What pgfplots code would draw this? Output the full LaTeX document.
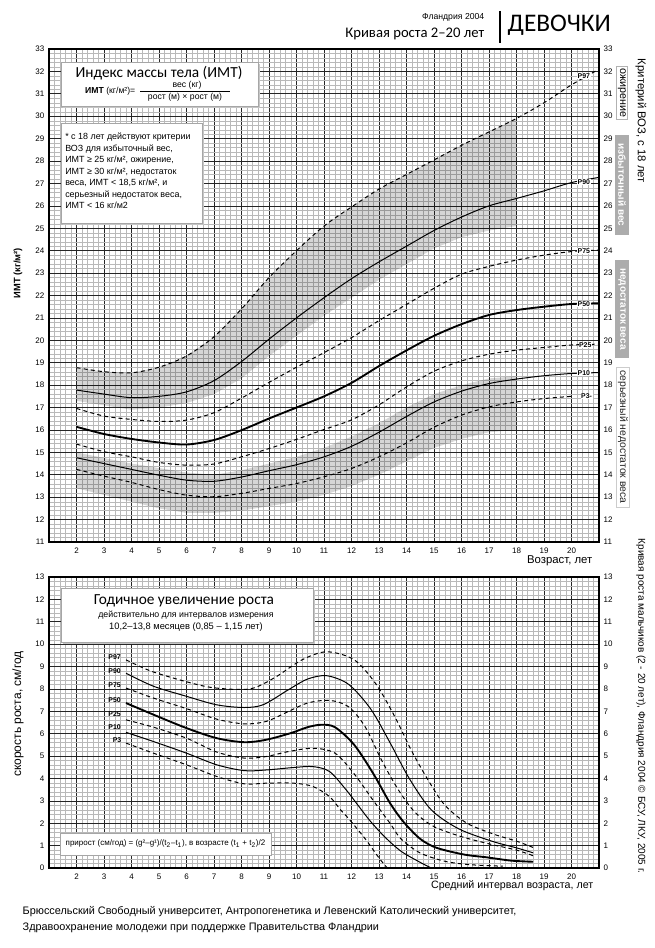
\documentclass[border=0pt]{standalone}
\usepackage{pgfplots}
\pgfplotsset{compat=1.18}
\usepackage{pgfplotstable}
\usepackage{fontspec}
\setmainfont{Liberation Sans}
\newfontfamily\carlito{Carlito}

% BMI percentiles, girls 2-20 y
\pgfplotstableread{
age p97   p90   p75   p50   p25   p10   p3
2   18.78 17.78 16.96 16.14 15.37 14.76 14.24
3   18.60 17.60 16.62 15.82 15.03 14.50 13.94
4   18.55 17.44 16.47 15.60 14.80 14.24 13.66
5   18.80 17.50 16.38 15.44 14.55 13.98 13.34
6   19.30 17.70 16.44 15.35 14.43 13.76 13.09
7   20.16 18.20 16.77 15.55 14.48 13.71 13.02
8   21.40 19.05 17.42 15.99 14.80 13.90 13.17
9   22.80 20.05 18.12 16.51 15.17 14.18 13.39
10  24.00 21.00 18.80 17.00 15.58 14.45 13.61
11  25.10 21.90 19.45 17.50 16.02 14.80 13.91
12  25.95 22.75 20.12 18.10 16.45 15.27 14.28
13  26.75 23.50 20.88 18.85 17.12 15.90 14.80
14  27.40 24.20 21.60 19.55 17.92 16.60 15.42
15  28.05 24.90 22.32 20.20 18.62 17.25 16.12
16  28.70 25.50 22.95 20.72 19.08 17.73 16.66
17  29.30 26.00 23.30 21.13 19.38 18.07 17.03
18  29.90 26.33 23.58 21.35 19.56 18.27 17.25
19  30.60 26.67 23.80 21.50 19.68 18.42 17.40
20  31.40 27.04 23.96 21.62 19.79 18.52 17.50
21  32.10 27.27 24.03 21.65 19.83 18.56 nan
}\bmi

% height velocity percentiles (cm/year)
\pgfplotstableread{
x y
3.8 9.30
4.7 8.80
6.0 8.32
7.0 8.05
8.3 8.00
9.2 8.50
10.2 9.30
11.1 9.66
12.1 9.30
12.9 8.20
13.6 6.70
14.2 5.20
14.8 3.90
15.4 2.80
16.2 2.00
17.2 1.50
18.0 1.20
18.6 0.92
}\vnn
\pgfplotstableread{
x y
3.8 8.70
4.8 8.12
6.0 7.67
7.1 7.29
8.1 7.17
8.8 7.30
9.7 7.96
10.4 8.44
11.1 8.59
11.9 8.20
12.7 7.10
13.4 5.60
14.1 4.00
14.9 2.60
15.9 1.75
17.1 1.20
18.0 0.90
18.6 0.68
}\vninety
\pgfplotstableread{
x y
3.8 8.04
4.8 7.59
6.0 7.12
7.1 6.65
8.1 6.44
8.9 6.55
9.7 6.99
10.4 7.37
11.2 7.49
11.9 7.20
12.5 6.30
13.1 4.80
13.7 3.50
14.3 2.50
15.0 1.85
16.0 1.40
17.1 1.05
18.0 0.80
18.6 0.55
}\vsf
\pgfplotstableread{
x y
3.8 7.37
4.8 6.85
6.0 6.25
7.1 5.80
8.1 5.62
8.9 5.73
9.8 6.03
10.4 6.29
10.9 6.40
11.4 6.29
12.1 5.50
12.8 4.20
13.4 2.90
13.9 2.05
14.5 1.30
15.1 0.90
16.1 0.60
16.9 0.48
17.8 0.33
18.6 0.28
}\vfifty
\pgfplotstableread{
x y
3.8 6.62
4.8 6.29
6.0 5.80
7.1 5.18
8.1 4.91
8.9 4.98
9.7 5.20
10.6 5.35
11.4 5.13
12.1 4.20
12.8 3.00
13.4 2.00
13.8 1.30
14.5 0.67
15.4 0.30
16.3 0.15
17.5 0.08
}\vtf
\pgfplotstableread{
x y
3.8 6.06
4.8 5.65
6.0 5.13
7.1 4.61
8.1 4.35
8.9 4.38
9.9 4.49
10.6 4.53
11.2 4.31
11.8 3.50
12.3 2.70
12.7 2.07
13.2 1.40
13.8 0.75
14.5 0.25
14.9 0.00
}\vten
\pgfplotstableread{
x y
3.8 5.58
4.8 5.13
6.0 4.61
7.1 4.09
8.1 3.76
8.9 3.79
9.9 3.79
10.6 3.64
11.2 3.19
11.6 2.60
11.9 2.20
12.5 1.30
13.0 0.45
13.3 0.00
}\vthree

\newcommand\ticklbl{\fontsize{6}{7}\selectfont}
\newcommand\plbl{\fontsize{5.2}{5.5}\selectfont\bfseries}

\tikzset{plab/.style={font=\plbl, fill=white, inner sep=0.4pt}}

\pgfplotsset{
  chart/.style={
    scale only axis, width=412.5pt,
    xmin=1, xmax=21,
    xtick={1,...,21},
    xticklabels={,2,3,4,5,6,7,8,9,10,11,12,13,14,15,16,17,18,19,20,},
    minor x tick num=4, minor y tick num=4,
    grid=both,
    major grid style={black!85, line width=0.5pt},
    minor grid style={gray!55, line width=0.25pt},
    major tick length=0pt, minor tick length=0pt,
    tick label style={font=\ticklbl},
    xticklabel style={yshift=-1pt},
    /pgf/number format/assume math mode=true,
    axis line style={line width=1pt},
    clip mode=individual,
  },
  rlabels/.style={
    scale only axis, width=412.5pt, xmin=1, xmax=21,
    hide x axis, axis y line*=right, y axis line style={draw=none},
    major tick length=0pt, tick label style={font=\ticklbl},
    /pgf/number format/assume math mode=true,
  },
  pline/.style={black, line width=0.75pt, smooth},
  pdash/.style={black, line width=0.75pt, smooth, dash pattern=on 3pt off 2.4pt},
  pthick/.style={black, line width=1.4pt, smooth},
}

\begin{document}
\begin{tikzpicture}
\path[use as bounding box] (0,0) rectangle (490.5pt,-711pt);

% ---------- BMI chart ----------
\begin{axis}[chart, at={(36.75pt,-406.5pt)}, anchor=south west, height=369.75pt,
  ymin=11, ymax=33, ytick={11,...,33}]
\addplot[fill=black, fill opacity=0.16, draw=none] coordinates {
  (2,18.78) (3,18.6) (4,18.55) (5,18.8) (6,19.3) (7,20.16) (8,21.4) (9,22.8)
  (10,24.0) (11,25.1) (12,25.95) (13,26.75) (14,27.4) (15,28.05) (16,28.7) (17,29.3) (18,29.9)
  (18,25.1) (17,24.9) (16,24.6) (15,24.1) (14,23.4) (13,22.7) (12,21.9) (11,21.1)
  (10,20.2) (9,19.3) (8,18.3) (7,17.6) (6,17.2) (5,17.0) (4,16.9) (3,17.1) (2,17.3)
} -- cycle;
\addplot[fill=black, fill opacity=0.16, draw=none] coordinates {
  (2,15.0) (3,14.75) (4,14.5) (5,14.3) (6,14.1) (7,14.0) (8,14.2) (9,14.5)
  (10,14.8) (11,15.2) (12,15.7) (13,16.3) (14,17.0) (15,17.6) (16,18.0) (17,18.3) (18,18.4)
  (18,16.0) (17,15.9) (16,15.6) (15,15.2) (14,14.6) (13,14.0) (12,13.5) (11,13.1)
  (10,12.8) (9,12.6) (8,12.4) (7,12.3) (6,12.3) (5,12.5) (4,12.8) (3,13.1) (2,13.4)
} -- cycle;
\addplot[pdash]  table[x=age, y=p97] {\bmi};
\addplot[pline]  table[x=age, y=p90] {\bmi};
\addplot[pdash]  table[x=age, y=p75] {\bmi};
\addplot[pthick] table[x=age, y=p50] {\bmi};
\addplot[pdash]  table[x=age, y=p25] {\bmi};
\addplot[pline]  table[x=age, y=p10] {\bmi};
\addplot[pdash]  table[x=age, y=p3]  {\bmi};
\node[plab] at (axis cs:20.45,31.8) {P97};
\node[plab] at (axis cs:20.45,27.06) {P90};
\node[plab] at (axis cs:20.45,24.0) {P75};
\node[plab] at (axis cs:20.45,21.63) {P50};
\node[plab] at (axis cs:20.5,19.8) {P25};
\node[plab] at (axis cs:20.45,18.54) {P10};
\node[plab] at (axis cs:20.55,17.5) {P3-};
\end{axis}
\begin{axis}[rlabels, at={(36.75pt,-406.5pt)}, anchor=south west, height=369.75pt,
  ymin=11, ymax=33, ytick={11,...,33}]
\addplot[draw=none] coordinates {(1,11)};
\end{axis}

% ---------- height velocity chart ----------
\begin{axis}[chart, at={(36.75pt,-651pt)}, anchor=south west, height=218.25pt,
  ymin=0, ymax=13, ytick={0,...,13}]
\addplot[pdash]  table {\vnn};
\addplot[pline]  table {\vninety};
\addplot[pdash]  table {\vsf};
\addplot[pthick] table {\vfifty};
\addplot[pdash]  table {\vtf};
\addplot[pline]  table {\vten};
\addplot[pdash]  table {\vthree};
\node[font=\plbl, anchor=east] at (axis cs:3.78,9.4) {P97};
\node[font=\plbl, anchor=east] at (axis cs:3.78,8.8) {P90};
\node[font=\plbl, anchor=east] at (axis cs:3.78,8.17) {P75};
\node[font=\plbl, anchor=east] at (axis cs:3.78,7.52) {P50};
\node[font=\plbl, anchor=east] at (axis cs:3.78,6.89) {P25};
\node[font=\plbl, anchor=east] at (axis cs:3.78,6.29) {P10};
\node[font=\plbl, anchor=east] at (axis cs:3.8,5.73) {P3};
\end{axis}
\begin{axis}[rlabels, at={(36.75pt,-651pt)}, anchor=south west, height=218.25pt,
  ymin=0, ymax=13, ytick={0,...,13}]
\addplot[draw=none] coordinates {(1,0)};
\end{axis}

\begin{scope}[x=0.75pt, y=-0.75pt]
% ---------- boxes ----------
\fill[gray!45] (63,64) rectangle (260,108);
\draw[gray!70, fill=white] (61,62) rectangle (258,106);
\node[font=\carlito\fontsize{11.5}{12}\selectfont] at (159,73) {Индекс массы тела (ИМТ)};
\node[anchor=east, font=\fontsize{6.5}{7}\selectfont] at (140,91.5) {\textbf{ИМТ} (кг/м²)=};
\node[font=\fontsize{6.5}{7}\selectfont] at (187,85) {вес (кг)};
\draw[line width=0.5pt] (140,91) -- (230,91);
\node[font=\fontsize{6.5}{7}\selectfont] at (185,97) {рост (м) × рост (м)};

\fill[gray!45] (63,125) rectangle (204,225);
\draw[gray!70, fill=white] (61,123) rectangle (202,223);
\node[anchor=north west, align=left, font=\fontsize{6.7}{8.6}\selectfont, inner sep=0pt] at (65,133)
 {* с 18 лет действуют критерии\\ВОЗ для избыточный вес,\\ИМТ ≥ 25 кг/м², ожирение,\\ИМТ ≥ 30 кг/м², недостаток\\веса, ИМТ < 18,5 кг/м², и\\серьезный недостаток веса,\\ИМТ < 16 кг/м2};

\fill[gray!45] (63,590) rectangle (315,644);
\draw[gray!70, fill=white] (61,588) rectangle (313,642);
\node[font=\carlito\fontsize{11.5}{12}\selectfont] at (184,601) {Годичное увеличение роста};
\node[font=\fontsize{6.6}{7}\selectfont] at (186,615) {действительно для интервалов измерения};
\node[font=\fontsize{7}{8}\selectfont] at (186,627) {10,2–13,8 месяцев (0,85 – 1,15 лет)};

\draw[gray!70, fill=white] (60,833) rectangle (271,855);
\node[font=\fontsize{6}{6.5}\selectfont] at (165.5,844)
 {прирост (см/год) = (g²–g¹)/(t\textsubscript{2}–t\textsubscript{1}), в возрасте (t\textsubscript{1} + t\textsubscript{2})/2};

% ---------- header ----------
\node[anchor=east, font=\fontsize{6.5}{7}\selectfont] at (489,17) {Фландрия 2004};
\node[anchor=east, font=\carlito\fontsize{11}{12}\selectfont] at (489,34) {Кривая роста 2–20 лет};
\draw[line width=0.8pt] (500,11) -- (500,43);
\node[anchor=west, font=\carlito\fontsize{19}{20}\selectfont] at (503,25) {ДЕВОЧКИ};

% ---------- axis titles ----------
\node[rotate=90, font=\fontsize{7}{8}\selectfont\bfseries] at (18,273) {ИМТ (кг/м²)};
\node[anchor=east, font=\fontsize{8.5}{9}\selectfont] at (597,561) {Возраст, лет};
\node[rotate=90, font=\fontsize{9}{10}\selectfont] at (18,714) {скорость роста, см/год};
\node[anchor=east, font=\fontsize{8}{9}\selectfont] at (598,886) {Средний интервал возраста, лет};

% ---------- right side ----------
\node[rotate=-90, font=\fontsize{8.5}{9}\selectfont] at (641,121) {Критерий ВОЗ, с 18 лет};
\node[rotate=-90, draw=gray!60, fill=white, font=\fontsize{8}{9}\selectfont, minimum width=40pt, inner sep=1pt] at (622,93) {ожирение};
\node[rotate=-90, fill=gray!65, text=white, font=\fontsize{7.5}{8}\selectfont\bfseries, minimum width=75pt, minimum height=11pt, inner sep=1pt] at (622,185) {избыточный вес};
\node[rotate=-90, fill=gray!65, text=white, font=\fontsize{7.5}{8}\selectfont\bfseries, minimum width=73.5pt, minimum height=11pt, inner sep=1pt] at (622,309) {недостаток веса};
\node[rotate=-90, draw=gray!40, fill=white, text=black!85, font=\fontsize{7.8}{8}\selectfont, minimum width=105pt, inner sep=1pt] at (623,437) {серьезный недостаток веса};
\node[rotate=-90, font=\fontsize{7.5}{8}\selectfont] at (641,706) {Кривая роста мальчиков (2 - 20 лет), Фландрия 2004 © БСУ, ЛКУ, 2005 г.};

% ---------- footer ----------
\node[anchor=west, font=\fontsize{8.15}{9}\selectfont] at (18,912) {Брюссельский Свободный университет, Антропогенетика и Левенский Католический университет,};
\node[anchor=west, font=\fontsize{8.15}{9}\selectfont] at (18,928) {Здравоохранение молодежи при поддержке Правительства Фландрии};
\end{scope}
\end{tikzpicture}
\end{document}
